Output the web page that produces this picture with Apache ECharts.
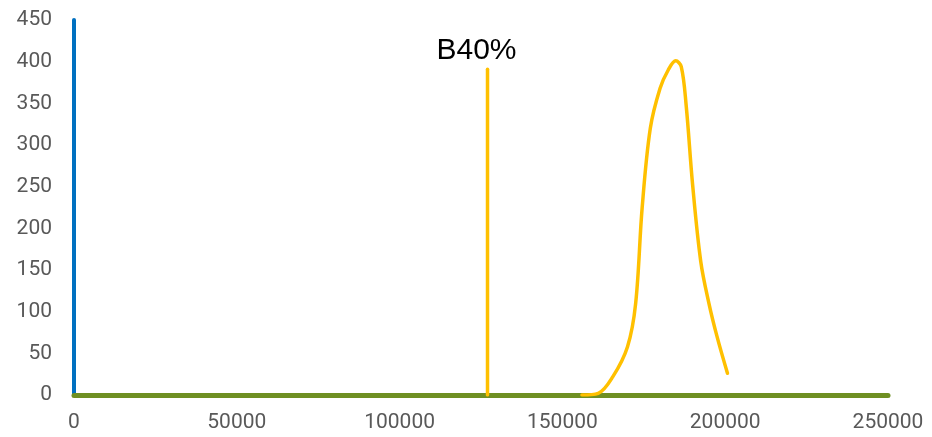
<!DOCTYPE html>
<html>
<head>
<meta charset="utf-8">
<script src="https://cdn.jsdelivr.net/npm/echarts@6/dist/echarts.min.js"></script>
<style>
  html, body { margin: 0; padding: 0; background: #fff; }
  #chart { width: 932px; height: 437px; }
</style>
</head>
<body>
<div id="chart"></div>
<script>
// x ticks / y ticks
var xTicks = [0, 50000, 100000, 150000, 200000, 250000];
var yTicks = [0, 50, 100, 150, 200, 250, 300, 350, 400, 450];

// distribution curve (x, count)
var curveX = [156000, 161000, 165500, 170000, 172500, 174500, 177000, 180000, 182500, 184800, 186500, 188000, 190000, 192500, 195000, 197500, 200700];
var curveY = [0, 2, 22, 58, 110, 225, 320, 368, 390, 401, 394, 348, 252, 160, 110, 70, 26];

// B40% reference line
var b40X = 127000;
var b40Top = 391;
var b40Label = 'B40%';

var chart = echarts.init(document.getElementById('chart'));

var curveData = curveX.map(function (x, i) { return [x, curveY[i]]; });

var option = {
  animation: false,
  grid: { left: 74, right: 44, top: 20, bottom: 42 },
  xAxis: {
    type: 'value',
    min: xTicks[0],
    max: xTicks[xTicks.length - 1],
    interval: 50000,
    axisLine: { show: true, lineStyle: { color: '#6f8f22', width: 5 } },
    axisTick: { show: false },
    splitLine: { show: false },
    axisLabel: {
      color: '#595959', fontSize: 21, fontFamily: 'Roboto', margin: 17,
      formatter: function (v) { return String(v); }
    }
  },
  yAxis: {
    type: 'value',
    min: yTicks[0],
    max: yTicks[yTicks.length - 1],
    interval: 50,
    axisLine: { show: true, lineStyle: { color: '#0070c0', width: 4 } },
    axisTick: { show: false },
    splitLine: { show: false },
    axisLabel: { color: '#595959', fontSize: 21, fontFamily: 'Roboto', margin: 22 }
  },
  series: [
    {
      type: 'line',
      data: curveData,
      smooth: 0.35,
      showSymbol: false,
      lineStyle: { color: '#ffc000', width: 3.5, cap: 'round' }
    },
    {
      type: 'line',
      data: [
        { value: [b40X, 0], symbolSize: 0 },
        {
          value: [b40X, b40Top],
          symbolSize: 0,
          label: {
            show: true,
            formatter: b40Label,
            color: '#000',
            fontSize: 30,
            fontFamily: 'Liberation Sans',
            position: 'top',
            distance: 3,
            offset: [-11, 0]
          }
        }
      ],
      symbol: 'circle',
      showSymbol: true,
      itemStyle: { color: '#ffc000' },
      lineStyle: { color: '#ffc000', width: 3.5, cap: 'round' }
    }
  ]
};

chart.setOption(option);
</script>
</body>
</html>
